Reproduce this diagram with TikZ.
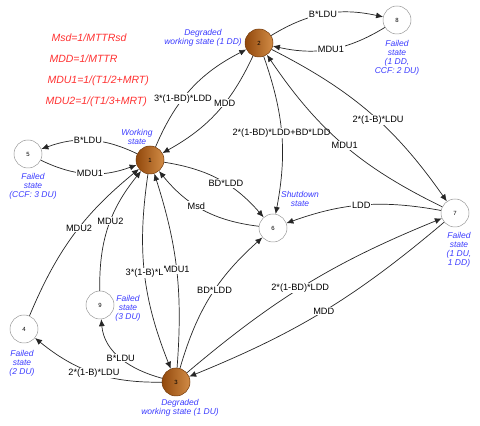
\documentclass[tikz,border=0pt]{standalone}
\usepackage{fontspec}
\setmainfont{Liberation Sans}
\usetikzlibrary{arrows.meta}
\definecolor{bluetxt}{RGB}{60,60,255}
\definecolor{redtxt}{RGB}{255,50,50}
\definecolor{brdark}{RGB}{145,72,12}
\definecolor{brlight}{RGB}{210,140,70}
\begin{document}
\begin{tikzpicture}[x=1pt,y=1pt,
 st/.style={circle,minimum size=28pt,inner sep=0pt,font=\fontsize{6}{7}\selectfont},
 stfill/.style={st,left color=brdark,right color=brlight,draw=brdark!80!black,line width=0.5pt},
 stwhite/.style={st,fill=white,draw=black!40,line width=0.5pt},
 captxt/.style={font=\fontsize{8.5}{9}\selectfont\itshape,text=bluetxt,align=center},
 frm/.style={font=\fontsize{10.5}{12}\selectfont\itshape,text=redtxt,anchor=west},
 lab/.style={font=\fontsize{9.2}{10}\selectfont,fill=white,inner sep=1pt},
 conn/.style={draw=black!85,line width=0.7pt,-{Latex[length=7pt,width=6pt]}}
]
\useasboundingbox[fill=white] (0,0) rectangle (480,426);
% states
\node[stfill]  (n1) at (150,266) {1};
\node[stfill]  (n2) at (259,383) {2};
\node[stfill]  (n3) at (176,44) {3};
\node[stwhite] (n4) at (24,97) {4};
\node[stwhite] (n5) at (28,272) {5};
\node[stwhite] (n6) at (273,198) {6};
\node[stwhite] (n7) at (455,213) {7};
\node[stwhite] (n8) at (397,406) {8};
\node[stwhite] (n9) at (100,121) {9};
% captions
\node[captxt] (c1) at (137,289) {Working\\state};
\node[captxt] (c2) at (203,388.5) {Degraded\\working state (1 DD)};
\node[captxt] (c8) at (397,368) {Failed\\state\\(1 DD,\\CCF: 2 DU)};
\node[captxt] (c5) at (33,240) {Failed\\state\\(CCF: 3 DU)};
\node[captxt] (c6) at (300,227.5) {Shutdown\\state};
\node[captxt] (c7) at (459,176.5) {Failed\\state\\(1 DU,\\1 DD)};
\node[captxt] (c9) at (128,118) {Failed\\state\\(3 DU)};
\node[captxt] (c4) at (22,63) {Failed\\state\\(2 DU)};
\node[captxt] (c3) at (180,18.5) {Degraded\\working state (1 DU)};
% formulas
\node[frm] (f1) at (48,388) {Msd=1/MTTRsd};
\node[frm] (f2) at (46,367) {MDD=1/MTTR};
\node[frm] (f3) at (44,345) {MDU1=1/(T1/2+MRT)};
\node[frm] (f4) at (42,324) {MDU2=1/(T1/3+MRT)};
% transitions
\draw[conn] (n1) to[bend left=20] node[lab,pos=.4]{3*(1-BD)*LDD} (n2);
\draw[conn] (n2) to[bend left=18] node[lab,pos=.4]{MDD} (n1);
\draw[conn] (n2) to[bend left=22] node[lab,pos=.48]{B*LDU} (n8);
\draw[conn] (n8) to[bend left=22] node[lab,pos=.5]{MDU1} (n2);
\draw[conn] (n1) to[bend right=23] node[lab,pos=.52]{B*LDU} (n5);
\draw[conn] (n5) to[bend right=23] node[lab,pos=.52]{MDU1} (n1);
\draw[conn] (n1) to[bend left=20] node[lab,pos=.57]{BD*LDD} (n6);
\draw[conn] (n6) to[bend left=22] node[lab,pos=.57]{Msd} (n1);
\draw[conn] (n2) to[bend left=15] node[lab,pos=.49]{2*(1-BD)*LDD+BD*LDD} (n6);
\draw[conn] (n7) to[bend left=15] node[lab,pos=.49]{MDU1} (n2);
\draw[conn] (n2) to[bend left=14] node[lab,pos=.55]{2*(1-B)*LDU} (n7);
\draw[conn] (n7) to[bend right=15] node[lab,pos=.51]{LDD} (n6);
\draw[conn] (n3) to[bend left=9] node[lab,pos=.47]{2*(1-BD)*LDD} (n7);
\draw[conn] (n7) to[bend left=9] node[lab,pos=.5]{MDD} (n3);
\draw[conn] (n3) to[bend left=16] node[lab,pos=.55]{BD*LDD} (n6);
\draw[conn] (n3) to[bend right=11] node[lab,pos=.5]{MDU1} (n1);
\draw[conn] (n1) to[bend right=15] node[lab,pos=.5]{3*(1-B)*L} (n3);
\draw[conn] (n3) to[out=165,in=-85] node[lab,pos=.5]{B*LDU} (n9);
\draw[conn] (n3) to[bend left=20] node[lab,pos=.5]{2*(1-B)*LDU} (n4);
\draw[conn] (n9) to[bend left=20] node[lab,pos=.55]{MDU2} (n1);
\draw[conn] (n4) to[bend left=14] node[lab,pos=.55]{MDU2} (n1);
\end{tikzpicture}
\end{document}
